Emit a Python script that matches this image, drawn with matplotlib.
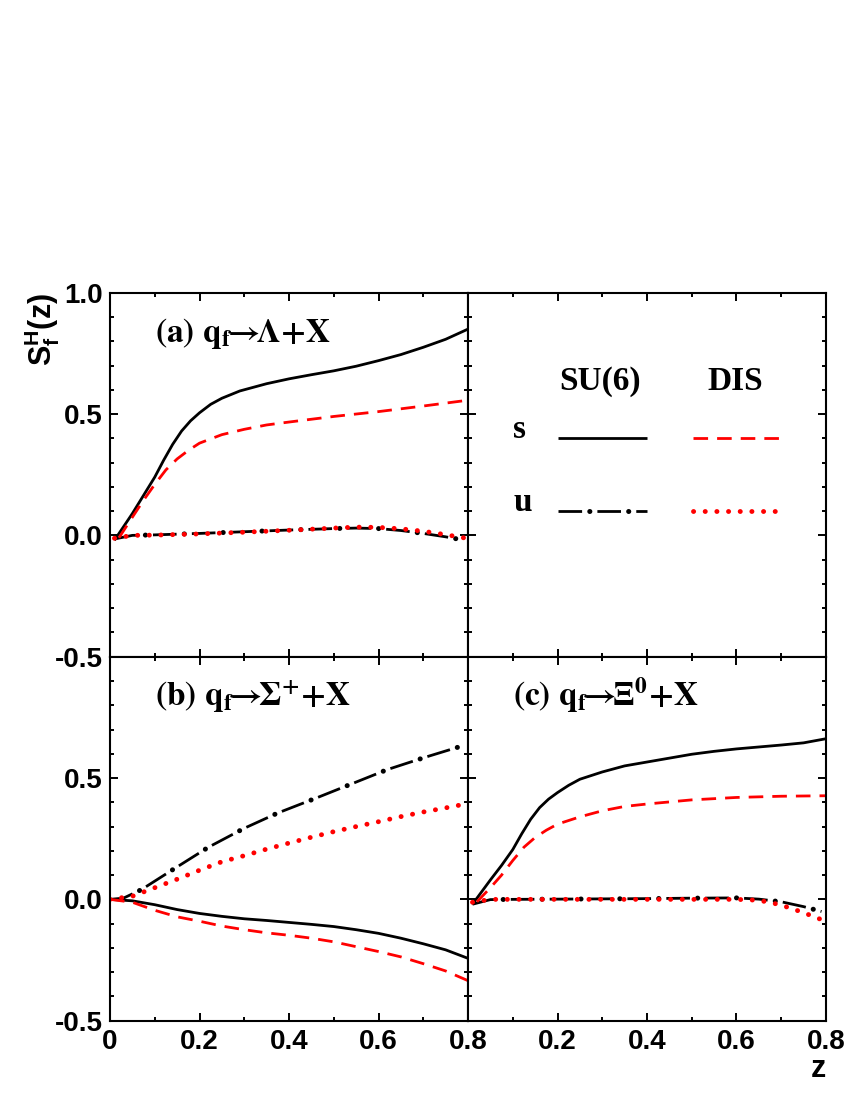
import matplotlib
matplotlib.use('Agg')
import matplotlib.pyplot as plt
from matplotlib.ticker import MultipleLocator

plt.rcParams['font.family'] = ['Liberation Sans', 'DejaVu Sans']
plt.rcParams['font.weight'] = 'bold'
plt.rcParams['mathtext.fontset'] = 'custom'
plt.rcParams['mathtext.rm'] = 'Liberation Sans:bold'
plt.rcParams['mathtext.bf'] = 'Liberation Sans:bold'
plt.rcParams['mathtext.it'] = 'Liberation Sans:bold'
plt.rcParams['lines.scale_dashes'] = False

# ---- data: (a) q_f -> Lambda + X
za_s_su6 = [0.01, 0.03, 0.05, 0.075, 0.10, 0.12, 0.14, 0.16, 0.18, 0.20, 0.225, 0.25, 0.29,
            0.35, 0.40, 0.45, 0.50, 0.55, 0.60, 0.65, 0.70, 0.75, 0.80]
sa_s_su6 = [-0.02, 0.035, 0.09, 0.165, 0.24, 0.31, 0.375, 0.43, 0.472, 0.505, 0.54, 0.565, 0.595,
            0.625, 0.645, 0.662, 0.678, 0.697, 0.72, 0.745, 0.775, 0.808, 0.85]
za_s_dis = [0.02, 0.05, 0.075, 0.10, 0.125, 0.15, 0.175, 0.20, 0.25, 0.30, 0.35, 0.40, 0.50, 0.60, 0.70, 0.80]
sa_s_dis = [-0.01, 0.075, 0.145, 0.21, 0.27, 0.315, 0.35, 0.38, 0.415, 0.437, 0.455, 0.467, 0.49, 0.51, 0.533, 0.557]
za_u_su6 = [0.01, 0.05, 0.10, 0.20, 0.30, 0.40, 0.50, 0.55, 0.60, 0.65, 0.70, 0.75, 0.78]
sa_u_su6 = [-0.015, 0.0, 0.002, 0.008, 0.015, 0.022, 0.028, 0.03, 0.028, 0.02, 0.008, -0.006, -0.016]
za_u_dis = [0.01, 0.05, 0.10, 0.20, 0.30, 0.40, 0.50, 0.55, 0.60, 0.65, 0.70, 0.75, 0.79]
sa_u_dis = [-0.012, 0.0, 0.001, 0.006, 0.013, 0.021, 0.03, 0.034, 0.033, 0.027, 0.017, 0.003, -0.01]

# ---- data: (b) q_f -> Sigma+ + X
zb = [0.0, 0.05, 0.10, 0.15, 0.20, 0.25, 0.30, 0.35, 0.40, 0.45, 0.50, 0.55, 0.60, 0.65, 0.70, 0.75, 0.80]
sb_s_su6 = [0.0, -0.006, -0.022, -0.042, -0.058, -0.07, -0.08, -0.087, -0.095, -0.103, -0.112,
            -0.125, -0.14, -0.16, -0.183, -0.208, -0.243]
sb_s_dis = [0.0, -0.012, -0.045, -0.072, -0.09, -0.11, -0.125, -0.138, -0.148, -0.16, -0.175,
            -0.195, -0.215, -0.237, -0.265, -0.295, -0.335]
sb_u_dis = [0.0, 0.013, 0.048, 0.083, 0.12, 0.155, 0.18, 0.207, 0.232, 0.256, 0.279,
            0.30, 0.32, 0.341, 0.36, 0.377, 0.395]
zb_u_su6 = [0.0, 0.03, 0.07, 0.145, 0.22, 0.30, 0.375, 0.46, 0.54, 0.62, 0.705, 0.79]
sb_u_su6 = [0.0, 0.005, 0.04, 0.128, 0.215, 0.293, 0.356, 0.417, 0.476, 0.535, 0.586, 0.634]

# ---- data: (c) q_f -> Xi0 + X
zc_s_su6 = [0.01, 0.03, 0.05, 0.075, 0.10, 0.12, 0.14, 0.16, 0.18, 0.20, 0.225, 0.25, 0.30,
            0.35, 0.40, 0.45, 0.50, 0.55, 0.60, 0.65, 0.70, 0.75, 0.80]
sc_s_su6 = [-0.02, 0.03, 0.08, 0.14, 0.205, 0.27, 0.33, 0.378, 0.413, 0.44, 0.47, 0.495, 0.525,
            0.55, 0.566, 0.582, 0.598, 0.61, 0.62, 0.628, 0.636, 0.645, 0.662]
zc_s_dis = [0.02, 0.05, 0.075, 0.10, 0.125, 0.15, 0.175, 0.20, 0.25, 0.30, 0.35, 0.40, 0.50, 0.60, 0.70, 0.80]
sc_s_dis = [-0.01, 0.048, 0.10, 0.16, 0.215, 0.255, 0.285, 0.31, 0.34, 0.365, 0.383, 0.393, 0.41, 0.42, 0.425, 0.427]
zc_u_su6 = [0.01, 0.05, 0.10, 0.20, 0.30, 0.40, 0.50, 0.60, 0.65, 0.70, 0.75, 0.79]
sc_u_su6 = [-0.02, -0.001, 0.0, 0.001, 0.002, 0.003, 0.005, 0.006, 0.001, -0.01, -0.03, -0.05]
zc_u_dis = [0.01, 0.05, 0.10, 0.20, 0.30, 0.40, 0.50, 0.60, 0.64, 0.67, 0.70, 0.73, 0.76, 0.785, 0.80]
sc_u_dis = [-0.012, 0.0, 0.0, 0.0, 0.0, 0.0, 0.0, 0.0, -0.003, -0.01, -0.024, -0.042, -0.062, -0.08, -0.088]

x_ticks = [0.0, 0.2, 0.4, 0.6, 0.8]
y_ticks = [-0.5, 0.0, 0.5, 1.0]
y_ticklabels = ['-0.5', '0.0', '0.5', '1.0']
x_ticklabels = ['0', '0.2', '0.4', '0.6', '0.8']

panel_labels = [r'$\mathbf{(a)\ q_f}\!\!\rightarrow\!\!\Lambda\mathbf{{+}X}$',
                r'$\mathbf{(b)\ q_f}\!\!\rightarrow\!\!\Sigma^{+}\mathbf{{+}X}$',
                r'$\mathbf{(c)\ q_f}\!\!\rightarrow\!\!\Xi^{0}\mathbf{{+}X}$']

# ---- styles
LW = 2.0


def s_su6(ax, z, s, **kw):
    ax.plot(z, s, color='black', lw=LW, solid_capstyle='butt', **kw)


def s_dis(ax, z, s, **kw):
    ax.plot(z, s, color='red', lw=LW, linestyle=(0, (10.5, 6.5)), dash_capstyle='butt', **kw)


def u_su6(ax, z, s, **kw):
    ax.plot(z, s, color='black', lw=LW, linestyle=(0, (17, 11)), dash_capstyle='butt', **kw)
    ax.plot(z, s, color='black', lw=3.6, linestyle=(5.5, (0.1, 27.9)), dash_capstyle='round', **kw)


def u_dis(ax, z, s, **kw):
    ax.plot(z, s, color='red', lw=3.5, linestyle=(0, (0.1, 8.3)), dash_capstyle='round', **kw)


fig = plt.figure(figsize=(8.5, 11), dpi=100)
W, H = 358 / 850, 364 / 1100
L1, L2 = 110 / 850, 468 / 850
B1, B2 = (1100 - 656.7) / 1100, (1100 - 1020.7) / 1100
ax_a = fig.add_axes([L1, B1, W, H])
ax_l = fig.add_axes([L2, B1, W, H])
ax_b = fig.add_axes([L1, B2, W, H])
ax_c = fig.add_axes([L2, B2, W, H])

for ax in (ax_a, ax_l, ax_b, ax_c):
    ax.set_xlim(0, 0.8)
    ax.set_ylim(-0.5, 1.0)
    ax.set_xticks(x_ticks)
    ax.set_yticks(y_ticks)
    ax.xaxis.set_minor_locator(MultipleLocator(0.1))
    ax.yaxis.set_minor_locator(MultipleLocator(0.1))
    ax.tick_params(which='both', direction='in', top=True, right=True, width=1.4,
                   labelsize=20, labelbottom=False, labelleft=False)
    ax.tick_params(which='major', length=6)
    ax.tick_params(which='minor', length=3)
    ax.tick_params(axis='y', pad=5)
    ax.tick_params(axis='x', pad=6)
    for sp in ax.spines.values():
        sp.set_linewidth(1.5)

ax_a.tick_params(labelleft=True)
ax_a.set_yticklabels(y_ticklabels)
ax_b.tick_params(labelleft=True, labelbottom=True)
ax_b.set_yticklabels(y_ticklabels[:-1] + [''])
ax_b.set_xticklabels(x_ticklabels)
ax_c.tick_params(labelbottom=True)
ax_c.set_xticklabels([''] + x_ticklabels[1:])

# curves
s_su6(ax_a, za_s_su6, sa_s_su6)
u_su6(ax_a, za_u_su6, sa_u_su6)
s_dis(ax_a, za_s_dis, sa_s_dis)
u_dis(ax_a, za_u_dis, sa_u_dis)

s_su6(ax_b, zb, sb_s_su6)
u_su6(ax_b, zb_u_su6, sb_u_su6)
s_dis(ax_b, zb, sb_s_dis)
u_dis(ax_b, zb, sb_u_dis)

s_su6(ax_c, zc_s_su6, sc_s_su6)
u_su6(ax_c, zc_u_su6, sc_u_su6)
s_dis(ax_c, zc_s_dis, sc_s_dis)
u_dis(ax_c, zc_u_dis, sc_u_dis)

for ax, lab in zip((ax_a, ax_b, ax_c), panel_labels):
    ax.text(0.126, 0.864, lab, transform=ax.transAxes, fontsize=24,
            math_fontfamily='stix', ha='left', va='baseline')

# legend panel
serif = ['Liberation Serif', 'DejaVu Serif']
ax_l.text(0.369, 0.732, 'SU(6)', transform=ax_l.transAxes, fontsize=24, family=serif,
          fontweight='bold', ha='center', va='baseline')
ax_l.text(0.746, 0.732, 'DIS', transform=ax_l.transAxes, fontsize=24, family=serif,
          fontweight='bold', ha='center', va='baseline')
ax_l.text(0.126, 0.602, 's', transform=ax_l.transAxes, fontsize=24, family=serif,
          fontweight='bold', ha='left', va='baseline')
ax_l.text(0.126, 0.399, 'u', transform=ax_l.transAxes, fontsize=24, family=serif,
          fontweight='bold', ha='left', va='baseline')
s_su6(ax_l, [0.251, 0.5], [0.602, 0.602], transform=ax_l.transAxes)
s_dis(ax_l, [0.628, 0.877], [0.602, 0.602], transform=ax_l.transAxes)
u_su6(ax_l, [0.251, 0.5], [0.401, 0.401], transform=ax_l.transAxes)
u_dis(ax_l, [0.628, 0.877], [0.401, 0.401], transform=ax_l.transAxes)

# axis titles
fig.text(42 / 850, 1 - 293 / 1100, r'$\mathrm{S_f^H(z)}$', rotation=90, fontsize=22,
         ha='center', va='top')
fig.text(826 / 850, 23 / 1100, 'z', fontsize=22, fontweight='bold', ha='right', va='baseline')

fig.savefig('out.png', dpi=100)
